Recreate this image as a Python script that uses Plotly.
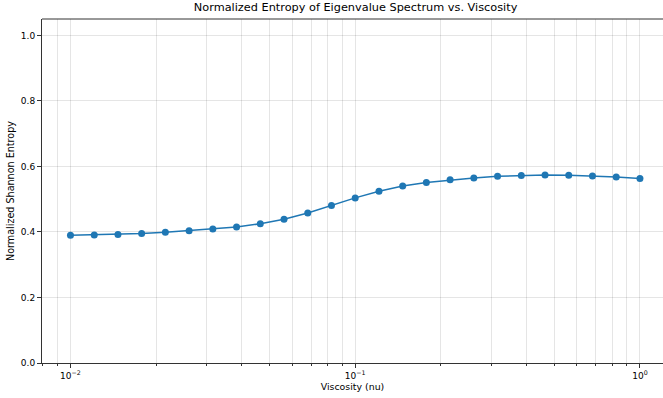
import numpy as np
import plotly.graph_objects as go

viscosity = [0.01, 0.01212, 0.01468, 0.01778, 0.02154, 0.0261, 0.03162, 0.03831, 0.04642,
             0.05623, 0.06813, 0.08254, 0.1, 0.1212, 0.1468, 0.1778, 0.2154, 0.261,
             0.3162, 0.3831, 0.4642, 0.5623, 0.6813, 0.8254, 1.0]
entropy = [0.390, 0.391, 0.392, 0.395, 0.399, 0.404, 0.409, 0.415, 0.425, 0.439, 0.458,
           0.481, 0.504, 0.524, 0.540, 0.551, 0.559, 0.565, 0.570, 0.572, 0.574, 0.573,
           0.571, 0.568, 0.563]
y_ticks = [0.0, 0.2, 0.4, 0.6, 0.8, 1.0]
x_major = [0.01, 0.1, 1.0]
x_minor = [m * d for d in [0.001, 0.01, 0.1, 1.0] for m in range(2, 10)]

fig = go.Figure()
fig.add_trace(go.Scatter(
    x=viscosity, y=entropy, mode="lines+markers",
    line=dict(color="#1f77b4", width=1.5),
    marker=dict(color="#1f77b4", size=7),
    showlegend=False,
))

grid = "rgba(0,0,0,0.10)"
fig.update_layout(
    width=663, height=398,
    margin=dict(l=42, r=0, t=19, b=35, autoexpand=False),
    paper_bgcolor="white", plot_bgcolor="white",
    font=dict(family="DejaVu Sans", size=9, color="#000"),
    title=dict(text="Normalized Entropy of Eigenvalue Spectrum vs. Viscosity",
               x=0.505, xref="paper", xanchor="center", y=1, yref="container",
               yanchor="top", pad=dict(t=3), automargin=False,
               font=dict(size=11.3, color="#000")),
    xaxis=dict(
        type="log", range=[-2.1, 0.081], automargin=False,
        tickmode="array", tickvals=x_major, exponentformat="power",
        ticktext=["10<sup>−2</sup>", "10<sup>−1</sup>", "10<sup>0</sup>"],
        ticks="outside", ticklen=4, tickcolor="#333", showline=True, linecolor="#333",
        linewidth=1, mirror=False, showgrid=True, gridcolor=grid, gridwidth=1,
        zeroline=False,
        minor=dict(tickmode="array", tickvals=x_minor, ticks="outside", ticklen=2,
                   tickcolor="#333", showgrid=True, gridcolor=grid, gridwidth=1),
        title=dict(text="Viscosity (nu)", standoff=2, font=dict(size=9.4)),
    ),
    yaxis=dict(
        range=[0, 1.05], tickmode="array", tickvals=y_ticks, tickformat=".1f",
        automargin=False,
        ticks="outside", ticklen=4, tickcolor="#333", showline=True, linecolor="#333",
        linewidth=1, showgrid=True, gridcolor=grid, gridwidth=1, zeroline=False,
        title=dict(text="Normalized Shannon Entropy", standoff=4, font=dict(size=9.6)),
    ),
)
fig.add_shape(type="line", xref="paper", yref="paper", x0=0, x1=1, y0=1, y1=1,
              line=dict(color="#333", width=1))
fig.write_html("out.html", config={"displayModeBar": False},
               post_script="document.body.style.margin='0';document.body.style.overflow='hidden';")
